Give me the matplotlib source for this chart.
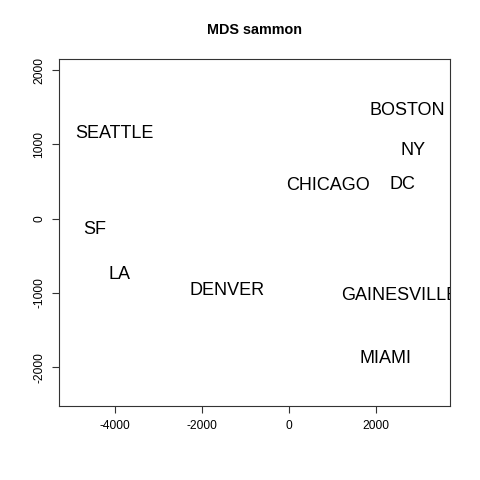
import matplotlib
matplotlib.use("Agg")
import matplotlib.pyplot as plt

cities = ["SEATTLE", "BOSTON", "NY", "CHICAGO", "DC", "SF", "LA", "DENVER", "GAINESVILLE", "MIAMI"]
x_vals = [-4023, 2710, 2844, 890, 2610, -4474, -3903, -1421, 2540, 2200]
y_vals = [1172, 1474, 939, 468, 485, -121, -728, -947, -1015, -1868]
x_ticks = [-4000, -2000, 0, 2000]
y_ticks = [-2000, -1000, 0, 1000, 2000]

plt.rcParams['font.family'] = ['Liberation Sans', 'DejaVu Sans']
fig = plt.figure(figsize=(4.8, 4.8), dpi=100)
ax = fig.add_axes([59.3/480, 1-405.7/480, (449.7-59.3)/480, (405.7-59)/480])
ax.set_xlim(-5287, 3687)
ax.set_ylim(-2520, 2152)
for c, x, y in zip(cities, x_vals, y_vals):
    ax.annotate(c, (x, y), xytext=(0, -1.6), textcoords='offset pixels',
                ha='center', va='center', fontsize=12.96, annotation_clip=False,
                clip_on=True, color='black')
ax.set_xticks(x_ticks)
ax.set_yticks(y_ticks)
ax.set_xticklabels([str(v) for v in x_ticks])
ax.set_yticklabels([str(v) for v in y_ticks], rotation=90, va='center')
ax.tick_params(axis='both', length=5, width=0.8, labelsize=8.64, pad=5, color='#333333')
for s in ax.spines.values():
    s.set_linewidth(0.8)
    s.set_color('#333333')
fig.text(254.5/480, 1-30/480, "MDS sammon", ha='center', va='center', fontsize=10.4, fontweight='bold')
fig.savefig("out.png", dpi=100)
